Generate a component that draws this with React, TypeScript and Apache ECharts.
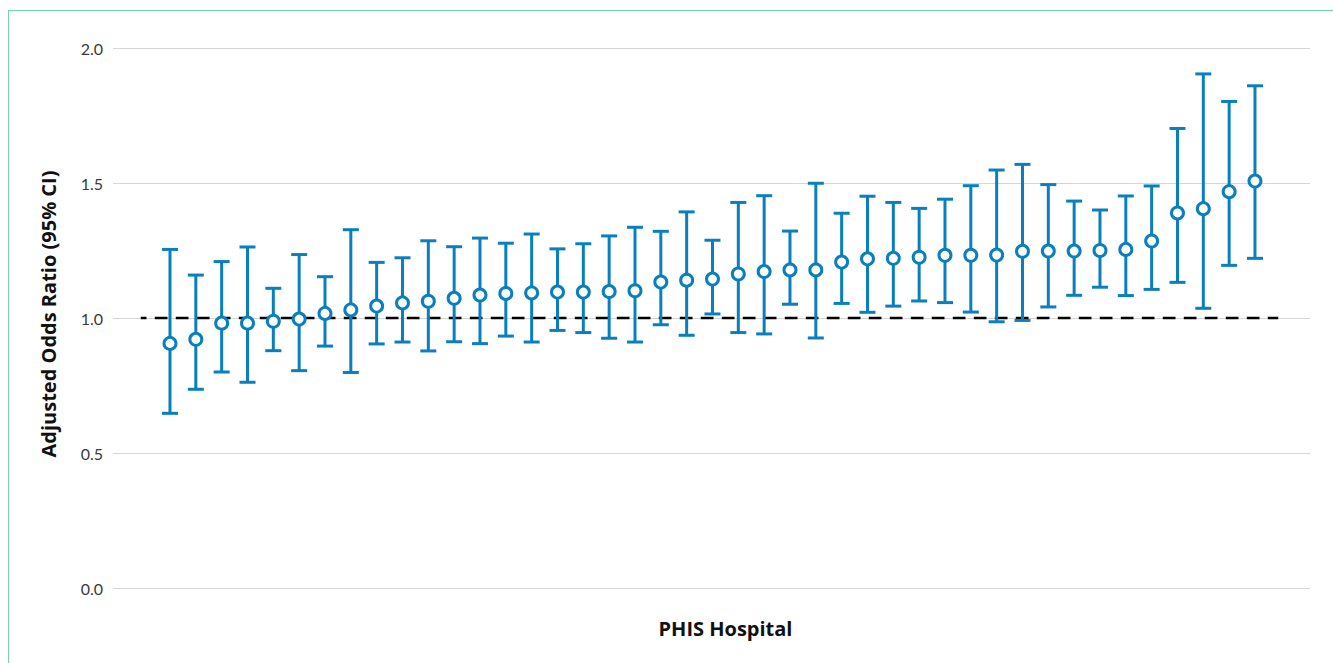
import React, { useEffect, useRef } from "react";
import * as echarts from "echarts";

const hospitals = Array.from({ length: 43 }, (_, i) => i + 1);
const oddsRatio = [0.906, 0.921, 0.981, 0.981, 0.988, 0.996, 1.017, 1.030, 1.044, 1.056, 1.062, 1.073, 1.085, 1.091, 1.093, 1.096, 1.096, 1.098, 1.101, 1.133, 1.140, 1.144, 1.163, 1.172, 1.178, 1.178, 1.207, 1.219, 1.221, 1.225, 1.232, 1.232, 1.233, 1.247, 1.248, 1.248, 1.250, 1.254, 1.285, 1.389, 1.405, 1.468, 1.507];
const ciLower = [0.647, 0.736, 0.800, 0.762, 0.879, 0.805, 0.896, 0.798, 0.904, 0.911, 0.878, 0.912, 0.905, 0.933, 0.911, 0.954, 0.946, 0.925, 0.911, 0.975, 0.936, 1.015, 0.946, 0.941, 1.051, 0.926, 1.054, 1.021, 1.044, 1.063, 1.057, 1.022, 0.986, 0.991, 1.041, 1.084, 1.114, 1.083, 1.106, 1.132, 1.036, 1.195, 1.221];
const ciUpper = [1.254, 1.159, 1.209, 1.263, 1.110, 1.235, 1.153, 1.327, 1.206, 1.223, 1.286, 1.264, 1.296, 1.277, 1.311, 1.256, 1.275, 1.304, 1.336, 1.321, 1.393, 1.288, 1.428, 1.453, 1.322, 1.499, 1.388, 1.451, 1.428, 1.406, 1.440, 1.490, 1.548, 1.569, 1.494, 1.433, 1.400, 1.452, 1.489, 1.702, 1.904, 1.802, 1.860];
const yTicks = [0, 0.5, 1.0, 1.5, 2.0];
const referenceValue = 1.0;
const referenceSpan = [-0.13, 43.9];

const BLUE = "#0a7fbd";

export default function App() {
  const ref = useRef<HTMLDivElement>(null);
  useEffect(() => {
    document.documentElement.style.overflow = "hidden";
    const chart = echarts.init(ref.current!, undefined, { renderer: "svg" });
    const errData = hospitals.map((h, i) => [h, ciLower[i], ciUpper[i]]);
    chart.setOption({
      animation: false,
      textStyle: { fontFamily: "Lato" },
      grid: { left: 104, right: 23, top: 37, bottom: 75 },
      xAxis: {
        type: "value",
        min: -1.206,
        max: 45.13,
        axisLine: { show: false },
        axisTick: { show: false },
        axisLabel: { show: false },
        splitLine: { show: false },
        name: "PHIS Hospital",
        nameLocation: "middle",
        nameGap: 30,
        nameTextStyle: {
          fontFamily: "Open Sans",
          fontWeight: "bold",
          fontSize: 20,
          color: "#111",
          padding: [0, 0, 0, 28],
        },
      },
      yAxis: {
        type: "value",
        min: yTicks[0],
        max: yTicks[yTicks.length - 1],
        interval: 0.5,
        axisLine: { show: false },
        axisTick: { show: false },
        axisLabel: {
          formatter: (v: number) => v.toFixed(1),
          fontSize: 16,
          color: "#3a3a3a",
          margin: 10,
          fontFamily: "Lato",
        },
        splitLine: { lineStyle: { color: "#d6d6d6", width: 1 } },
        name: "Adjusted Odds Ratio (95% CI)",
        nameLocation: "middle",
        nameGap: 55,
        nameTextStyle: {
          fontFamily: "Open Sans",
          fontWeight: "bold",
          fontSize: 20,
          color: "#111",
          padding: [0, 0, 0, 8],
        },
      },
      series: [
        {
          type: "line",
          data: referenceSpan.map((x) => [x, referenceValue]),
          symbol: "none",
          lineStyle: { color: "#000", width: 2.5, type: [12.7, 8.3], dashOffset: 6.7 },
          z: 2,
          silent: true,
        },
        {
          type: "custom",
          data: errData,
          z: 3,
          renderItem: (params: any, api: any) => {
            const x = api.value(0);
            const lo = api.coord([x, api.value(1)]);
            const hi = api.coord([x, api.value(2)]);
            const hw = 8;
            const style = { stroke: BLUE, lineWidth: 3 };
            return {
              type: "group",
              children: [
                { type: "line", shape: { x1: lo[0], y1: lo[1], x2: hi[0], y2: hi[1] }, style },
                { type: "line", shape: { x1: lo[0] - hw, y1: lo[1], x2: lo[0] + hw, y2: lo[1] }, style },
                { type: "line", shape: { x1: hi[0] - hw, y1: hi[1], x2: hi[0] + hw, y2: hi[1] }, style },
              ],
            };
          },
        },
        {
          type: "scatter",
          data: hospitals.map((h, i) => [h, oddsRatio[i]]),
          symbol: "circle",
          symbolSize: 12,
          itemStyle: { color: "#fff", borderColor: BLUE, borderWidth: 3, opacity: 1 },
          z: 4,
        },
      ],
    });
    return () => chart.dispose();
  }, []);
  return (
    <div
      style={{
        position: "fixed",
        left: 8,
        top: 10,
        right: 0,
        bottom: 0,
        borderLeft: "1px solid #74d2b2",
        borderTop: "1px solid #74d2b2",
        background: "#fff",
      }}
    >
      <div ref={ref} style={{ width: 1324, height: 652 }} />
    </div>
  );
}
